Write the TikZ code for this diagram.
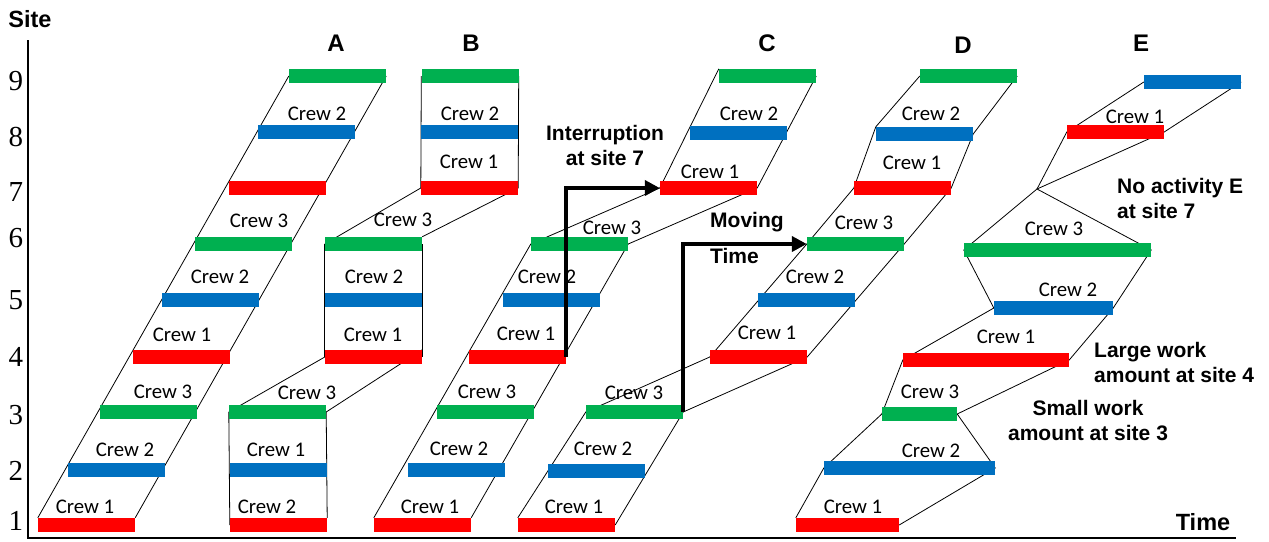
\documentclass[tikz,border=0pt]{standalone}
\usepackage{fontspec}
\setmainfont{Liberation Serif}
\newfontfamily\crewfont{Carlito}
\newfontfamily\headfont{Liberation Sans}
\usetikzlibrary{arrows.meta,backgrounds}
\definecolor{crewred}{RGB}{255,0,0}
\definecolor{crewblue}{RGB}{0,112,192}
\definecolor{crewgreen}{RGB}{0,176,80}

\begin{document}
\begin{tikzpicture}[x=1pt,y=-1pt,
  bar/.style={fill=#1,minimum width=97pt,minimum height=14pt,inner sep=0pt},
  crew/.style={font=\crewfont\fontsize{20.8}{24}\selectfont,inner sep=0pt},
  head/.style={font=\headfont\bfseries\fontsize{24}{28}\selectfont,inner sep=0pt},
  note/.style={font=\headfont\bfseries\fontsize{21}{25}\selectfont,inner sep=0pt},
  site/.style={font=\fontsize{29}{30}\selectfont,inner sep=0pt},
  link/.style={line width=0.8pt},
  arr/.style={line width=4pt,-{Triangle[length=15pt,width=15pt]}}]
\useasboundingbox (0,0) rectangle (1269,541);

\draw[line width=2.6pt] (28,40) -- (28,538) -- (1236,538);
\node[head,font=\headfont\bfseries\fontsize{23.5}{28}\selectfont] (site) at (30,19) {Site};
\node[head,font=\headfont\bfseries\fontsize{23.5}{28}\selectfont] (time) at (1203,522) {Time};
\node[site] (s1) at (16,521) {1};
\node[site] (s2) at (16,471) {2};
\node[site] (s3) at (16,415) {3};
\node[site] (s4) at (16,357) {4};
\node[site] (s5) at (16,300) {5};
\node[site] (s6) at (16,238) {6};
\node[site] (s7) at (16,192) {7};
\node[site] (s8) at (16,137) {8};
\node[site] (s9) at (16,81) {9};

\node[head] (hA) at (336,43) {A};
\node[head] (hB) at (471,43) {B};
\node[head] (hC) at (767,43) {C};
\node[head] (hD) at (963,45) {D};
\node[head] (hE) at (1141,43) {E};

\node[bar=crewred] (a1) at (86.5,525) {};
\node[bar=crewblue] (a2) at (116.5,470) {};
\node[bar=crewgreen] (a3) at (148.5,412) {};
\node[bar=crewred] (a4) at (181.5,357) {};
\node[bar=crewblue] (a5) at (210.5,300) {};
\node[bar=crewgreen] (a6) at (243.5,244) {};
\node[bar=crewred] (a7) at (277.5,188) {};
\node[bar=crewblue] (a8) at (306.5,132) {};
\node[bar=crewgreen] (a9) at (337.5,76) {};
\node[crew] (la1) at (85,507) {Crew 1};
\node[crew] (la2) at (125,450) {Crew 2};
\node[crew] (la3) at (163,392) {Crew 3};
\node[crew] (la4) at (182,335) {Crew 1};
\node[crew] (la5) at (220,277) {Crew 2};
\node[crew] (la6) at (259,221) {Crew 3};
\node[crew] (la8) at (317,114) {Crew 2};

\node[bar=crewred] (b1) at (278.5,525) {};
\node[bar=crewblue] (b2) at (278.5,470) {};
\node[bar=crewgreen] (b3) at (277.5,412) {};
\node[bar=crewred] (b4) at (373.5,357) {};
\node[bar=crewblue] (b5) at (373,300) {};
\node[bar=crewgreen] (b6) at (373.5,244) {};
\node[bar=crewred] (b7) at (469.5,188) {};
\node[bar=crewblue] (b8) at (469.5,132) {};
\node[bar=crewgreen] (b9) at (470,76) {};
\node[crew] (lb1) at (267,507) {Crew 2};
\node[crew] (lb2) at (276,450) {Crew 1};
\node[crew] (lb3) at (307,393) {Crew 3};
\node[crew] (lb4) at (373,335) {Crew 1};
\node[crew] (lb5) at (374,277) {Crew 2};
\node[crew] (lb6) at (403,220) {Crew 3};
\node[crew] (lb7) at (469,162) {Crew 1};
\node[crew] (lb8) at (470,114) {Crew 2};

\node[bar=crewred] (c1) at (422.5,525) {};
\node[bar=crewblue] (c2) at (456.5,470) {};
\node[bar=crewgreen] (c3) at (485.5,412) {};
\node[bar=crewred] (c4) at (517.5,357) {};
\node[bar=crewblue] (c5) at (551.5,300) {};
\node[bar=crewgreen] (c6) at (579.5,244) {};
\node[bar=crewred] (c7) at (708.5,188) {};
\node[bar=crewblue] (c8) at (738.5,133) {};
\node[bar=crewgreen] (c9) at (767.5,76) {};
\node[crew] (lc1) at (430,507) {Crew 1};
\node[crew] (lc2) at (459,449) {Crew 2};
\node[crew] (lc3) at (487,392) {Crew 3};
\node[crew] (lc4) at (526,334) {Crew 1};
\node[crew] (lc5) at (547,277) {Crew 2};
\node[crew] (lc6) at (612,228) {Crew 3};
\node[crew] (lc7) at (710,172) {Crew 1};
\node[crew] (lc8) at (749,114) {Crew 2};

\node[bar=crewred] (d1) at (566.5,525) {};
\node[bar=crewblue] (d2) at (596.5,471) {};
\node[bar=crewgreen] (d3) at (634.5,412) {};
\node[bar=crewred] (d4) at (758.5,357) {};
\node[bar=crewblue] (d5) at (806.5,300) {};
\node[bar=crewgreen] (d6) at (855.5,244) {};
\node[bar=crewred] (d7) at (902.5,188) {};
\node[bar=crewblue] (d8) at (924.5,134) {};
\node[bar=crewgreen] (d9) at (968.5,76) {};
\node[crew] (ld1) at (574,507) {Crew 1};
\node[crew] (ld2) at (603,449) {Crew 2};
\node[crew] (ld3) at (634,393) {Crew 3};
\node[crew] (ld4) at (767,333) {Crew 1};
\node[crew] (ld5) at (815,277) {Crew 2};
\node[crew] (ld6) at (864,223) {Crew 3};
\node[crew] (ld7) at (912,163) {Crew 1};
\node[crew] (ld8) at (931,114) {Crew 2};

\node[bar=crewred,minimum width=103pt] (e1) at (847.5,525) {};
\node[bar=crewblue,minimum width=171pt] (e2) at (909.5,468) {};
\node[bar=crewgreen,minimum width=75pt] (e3) at (919.5,414) {};
\node[bar=crewred,minimum width=166pt] (e4) at (986,360) {};
\node[bar=crewblue,minimum width=119pt] (e5) at (1053.5,308) {};
\node[bar=crewgreen,minimum width=187pt] (e6) at (1057.5,250) {};
\coordinate (e7) at (1037,189);
\node[bar=crewred] (e8) at (1115.5,132) {};
\node[bar=crewblue] (e9) at (1192.5,82) {};
\node[crew] (le1) at (853,507) {Crew 1};
\node[crew] (le2) at (931,451) {Crew 2};
\node[crew] (le3) at (930,392) {Crew 3};
\node[crew] (le4) at (1006,337) {Crew 1};
\node[crew] (le5) at (1068,290) {Crew 2};
\node[crew] (le6) at (1054,229) {Crew 3};
\node[crew] (le8) at (1135,117) {Crew 1};

\node[note,align=center] (intr) at (605,145) {Interruption\\at site 7};
\node[note,align=left,anchor=west,font=\headfont\bfseries\fontsize{21}{36}\selectfont] (move) at (710,238) {Moving\\Time};
\node[note,align=left,anchor=west] (noact) at (1117,198.5) {No activity E\\at site 7};
\node[note,align=left,anchor=west] (large) at (1094,362.5) {Large work\\amount at site 4};
\node[note,align=center] (small) at (1088,420.5) {Small work\\amount at site 3};

\begin{scope}[on background layer]
\draw[link] (a1.north west) -- (a9.west);
\draw[link] (a1.north east) -- (a9.east);

\draw[link] (b3.west) -- (b1.west);
\draw[link] (b3.east) -- (b1.north east);
\draw[link] (b3.west) -- (b4.west);
\draw[link] (b3.east) -- (b4.north east);
\draw[link] (b6.west) -- (b4.west);
\draw[link] (b6.east) -- (b4.east);
\draw[link] (b6.west) -- (b7.west);
\draw[link] (b6.north east) -- (b7.east);
\draw[link] (b9.west) -- (b7.west);
\draw[link] (b9.east) -- (b7.east);

\draw[link] (c1.north west) -- (c6.west);
\draw[link] (c1.north east) -- (c6.east);
\draw[link] (c6.west) -- (c7.west);
\draw[link] (c6.east) -- (c7.east);
\draw[link] (c7.west) -- (c9.north west);
\draw[link] (c7.east) -- (c9.east);

\draw[link] (d1.north west) -- (d3.west) -- (d4.west) -- (d6.west) -- (d7.west) -- (d8.north west) -- (d9.west);
\draw[link] (d1.east) -- (d3.east) -- (d4.east) -- (d6.east) -- (d7.east) -- (d8.east) -- (d9.east);

\draw[link] (e1.north west) -- (e2.west) -- (e3.west) -- (e4.west) -- (e5.west) -- (e6.west) -- (e7) -- (e8.west) -- (e9.west);
\draw[link] (e1.east) -- (e2.east) -- (e3.east) -- (e4.east) -- (e5.east) -- (e6.east) -- (e7) -- (e8.east) -- (e9.east);
\end{scope}

\draw[arr] (c4.east) |- (c7.west);
\draw[arr] (d3.east) |- (d6.west);
\end{tikzpicture}
\end{document}
